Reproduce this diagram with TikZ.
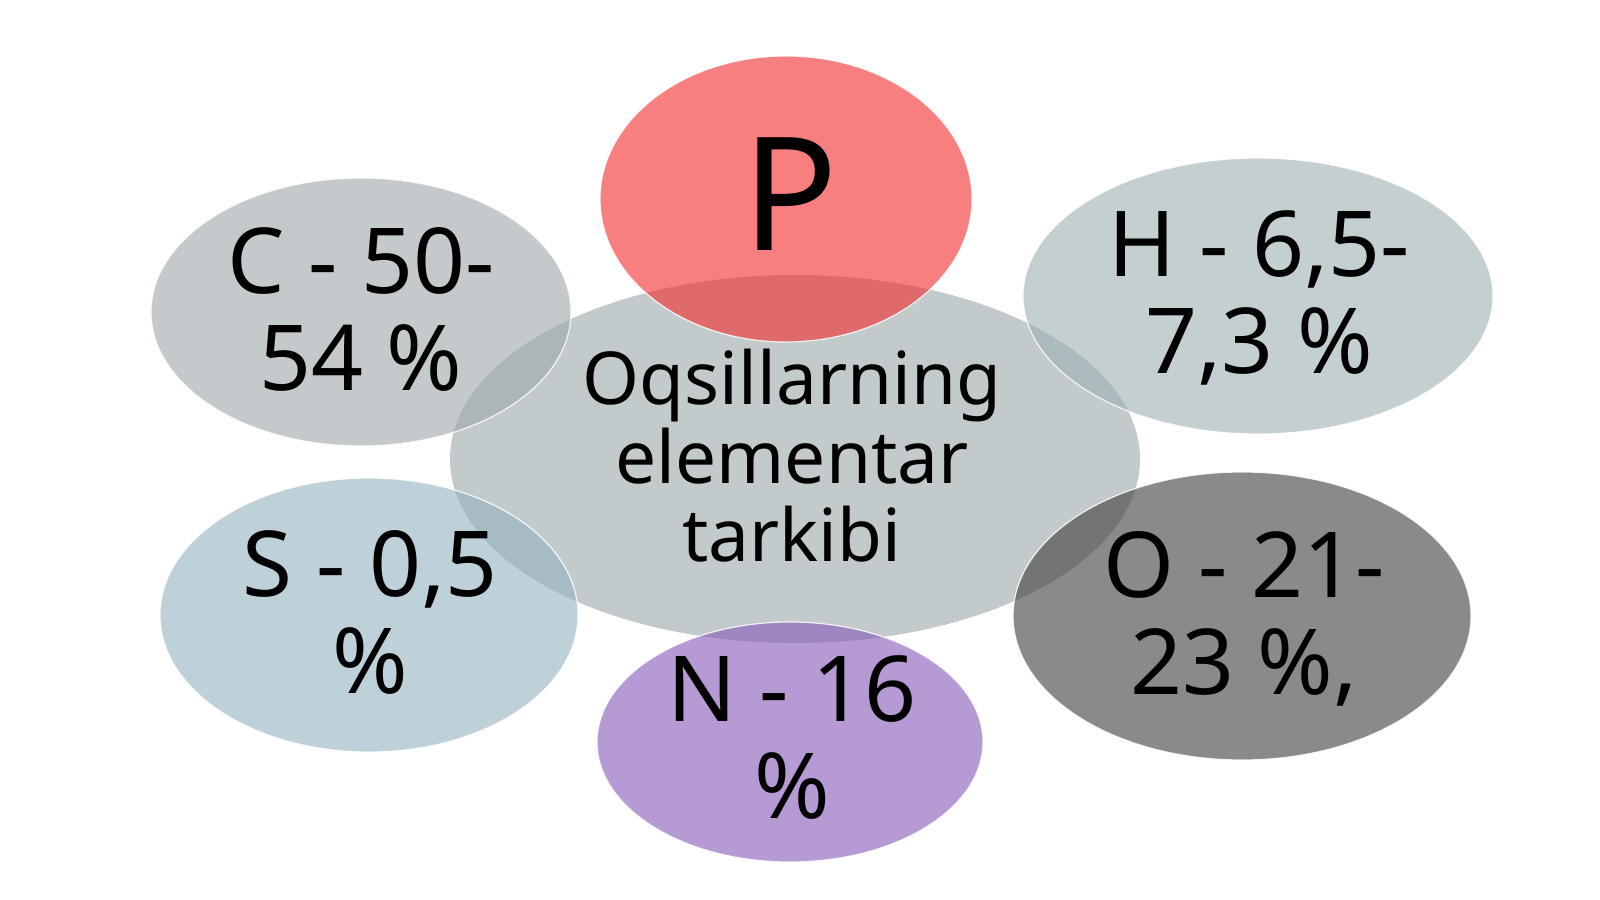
\documentclass[tikz,border=0pt]{standalone}
\usepackage{fontspec}
\setmainfont{Noto Sans}
\definecolor{centc}{RGB}{155,167,170}
\definecolor{redc}{RGB}{242,42,43}
\definecolor{cc}{RGB}{157,167,170}
\definecolor{hc}{RGB}{158,175,180}
\definecolor{sc}{RGB}{147,177,190}
\definecolor{oc}{RGB}{63,60,62}
\definecolor{nc}{RGB}{133,87,183}
\begin{document}
\begin{tikzpicture}[x=0.5pt,y=-0.5pt,
  blob/.style={fill opacity=0.6, draw=white, draw opacity=0.85, line width=0.6pt},
  lbl/.style={text=black, align=center, inner sep=0pt, font=\fontsize{45.5}{48.5}\selectfont},
  midlbl/.style={text=black, align=center, inner sep=0pt, font=\fontsize{36.5}{39.3}\selectfont},
  biglbl/.style={text=black, inner sep=0pt, font=\fontsize{79}{80}\selectfont}]
\fill[white] (0,0) rectangle (1600,899);
\useasboundingbox (0,0) rectangle (1600,899);
% ellipses
\fill[blob, fill=centc, draw=none] (795,459) ellipse [x radius=345, y radius=184];
\filldraw[blob, fill=cc] (361,312) ellipse [x radius=210, y radius=134];
\filldraw[blob, fill=hc] (1258,296) ellipse [x radius=235, y radius=138];
\filldraw[blob, fill=sc] (369,615) ellipse [x radius=209, y radius=137];
\filldraw[blob, fill=oc] (1242,616) ellipse [x radius=229, y radius=144];
\filldraw[blob, fill=redc] (786,199) ellipse [x radius=186, y radius=143];
\filldraw[blob, fill=nc] (790,742) ellipse [x radius=193, y radius=120];
% labels
\node[midlbl] (mid) at (792,456) {Oqsillarning\\elementar\\tarkibi};
\node[biglbl, anchor=base] (p) at (790,250) {P};
\node[lbl] (c) at (361,309) {C - 50-\\54 \%};
\node[lbl] (h) at (1259,298) {H - 6,5-\\7,3 \%};
\node[lbl] (s) at (370,612) {S - 0,5\\\%};
\node[lbl] (o) at (1244,619) {O - 21-\\23 \%,};
\node[lbl] (n) at (792,738) {N - 16\\\%};
\end{tikzpicture}
\end{document}
